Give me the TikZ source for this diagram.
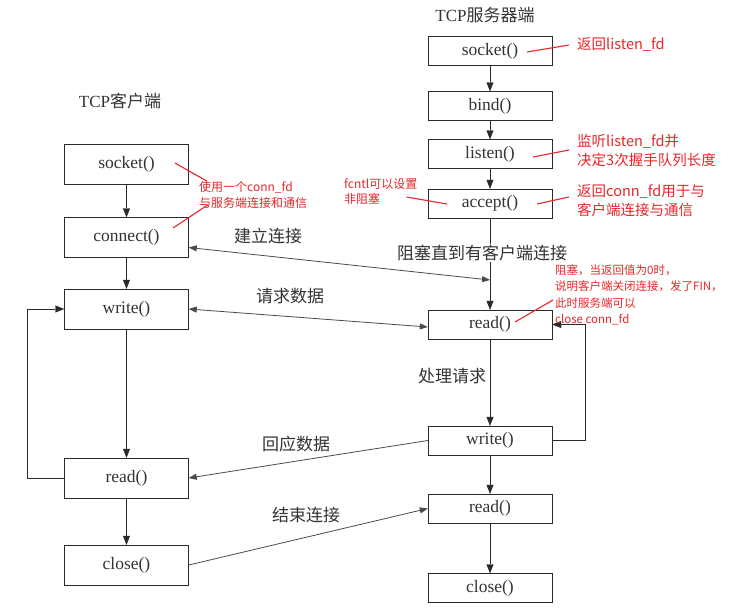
\documentclass[tikz,border=0pt]{standalone}
\usepackage{fontspec}
\setmainfont{Liberation Serif}
\newfontfamily\cjk{Noto Sans CJK SC}
\usepackage{tikz}
\usetikzlibrary{arrows.meta, calc}
\definecolor{tcpline}{HTML}{2A2A2A}
\definecolor{tcptext}{HTML}{333333}
\definecolor{tcpnote}{HTML}{E8262A}

\begin{document}
\begin{tikzpicture}[x=1pt, y=-1pt,
  fnbox/.style={draw=tcpline, fill=white, minimum width=124pt, inner sep=0pt, text=tcptext, font=\fontsize{17.5}{20}\selectfont},
  cbox/.style={fnbox, minimum height=40pt},
  sbox/.style={fnbox, minimum height=29pt},
  flow/.style={draw=tcpline, -{Triangle[length=9pt,width=7pt]}},
  msg/.style={draw=tcpline!85, line width=0.8pt},
  tip/.tip={Triangle[length=8pt,width=6pt]},
  title/.style={text=tcptext, font=\fontsize{17}{20}\selectfont},
  cnlabel/.style={fill=white, inner sep=1pt, text=tcptext, font=\cjk\fontsize{17}{19}\selectfont},
  note/.style={anchor=west, align=left, inner sep=0pt, text=tcpnote, font=\cjk\fontsize{14.5}{19}\selectfont},
  pointer/.style={draw=tcpnote, line width=1.1pt}]
\fill[white] (0,0) rectangle (730,611);
\useasboundingbox (0,0) rectangle (730,611);

\node (ctitle) [title] at (120,101) {TCP{\cjk 客户端}};
\node (stitle) [title] at (485,15) {TCP{\cjk 服务器端}};

\node (c1) [cbox] at (126.5,164) {socket()};
\node (c2) [cbox] at (126.5,237.5) {connect()};
\node (c3) [cbox] at (126.5,309) {write()};
\node (c4) [cbox] at (126.5,478) {read()};
\node (c5) [cbox] at (126.5,565) {close()};

\node (s1) [sbox] at (490,51) {socket()};
\node (s2) [sbox] at (490,106) {bind()};
\node (s3) [sbox] at (490,154) {listen()};
\node (s4) [sbox] at (490,203.5) {accept()};
\node (s5) [sbox] at (490,324.5) {read()};
\node (s6) [sbox] at (490,440.5) {write()};
\node (s7) [sbox] at (490,508.5) {read()};
\node (s8) [sbox] at (490,588) {close()};

\foreach \a/\b in {c1/c2, c2/c3, c3/c4, c4/c5, s1/s2, s2/s3, s3/s4, s4/s5, s5/s6, s6/s7, s7/s8}
  \draw[flow] (\a) -- (\b);
\draw[flow] (c4.west) -- ++(-37,0) |- (c3.west);
\draw[flow] (s6.east) -- ++(33,0) |- (s5.east);

\coordinate (acc) at (490,280);
\draw[msg, tip-tip] ([yshift=-10pt]c2.east) -- (acc);
\draw[msg, tip-tip] (c3.east) -- ([yshift=-2.5pt]s5.west);
\draw[msg, -tip] (s6.west) -- (c4.east);
\draw[msg, -tip] (c5.east) -- (s7.west);

\node (l1) [cnlabel] at (268,236) {建立连接};
\node (l2) [cnlabel] at (290,296) {请求数据};
\node (l3) [cnlabel] at (296,444) {回应数据};
\node (l4) [cnlabel] at (306,515) {结束连接};
\node (l5) [cnlabel] at (482,253) {阻塞直到有客户端连接};
\node (l6) [cnlabel] at (452,376) {处理请求};

\node (n1) [note] at (577,45) {返回listen\_fd};
\node (n2) [note] at (577,150) {监听listen\_fd并\\决定3次握手队列长度};
\node (n3) [note] at (577,201) {返回conn\_fd用于与\\客户端连接与通信};
\node (n4) [note, font=\cjk\fontsize{12}{15}\selectfont] at (344,192) {fcntl可以设置\\非阻塞};
\node (n5) [note, font=\cjk\fontsize{12}{16}\selectfont] at (199,195) {使用一个conn\_fd\\与服务端连接和通信};
\node (n6) [note, font=\cjk\fontsize{11.5}{16.3}\selectfont] at (555,295) {阻塞，当返回值为0时，\\说明客户端关闭连接，发了FIN，\\此时服务端可以\\close conn\_fd};

\coordinate (p1) at (527,52);
\coordinate (p2) at (533,157);
\coordinate (p3) at (537,204);
\coordinate (p4) at (447,204);
\coordinate (p5a) at (175,163);
\coordinate (p5b) at (173,228);
\coordinate (p6) at (515,322);
\draw[pointer] (p1) -- ([xshift=-8pt]n1.west);
\draw[pointer] (p2) -- ([xshift=-8pt]n2.west);
\draw[pointer] (p3) -- ([xshift=-8pt,yshift=4pt]n3.west);
\draw[pointer] ([xshift=-11pt,yshift=-5pt]n4.east) -- (p4);
\draw[pointer] (p5a) -- ([xshift=8pt]n5.north west);
\draw[pointer] (p5b) -- ([xshift=9pt,yshift=4pt]n5.south west);
\draw[pointer] (p6) -- ([xshift=-2pt,yshift=-5pt]n6.west);
\end{tikzpicture}
\end{document}
